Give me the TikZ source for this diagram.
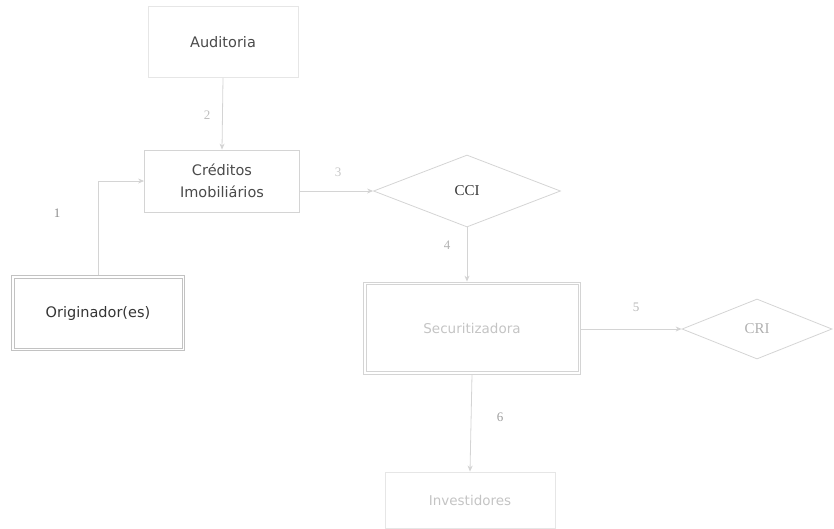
\documentclass[tikz,border=0pt]{standalone}
\usepackage{fontspec}
\setmainfont{DejaVu Sans}
\newfontfamily\numfont{Liberation Serif}
\usetikzlibrary{shapes.geometric,arrows.meta}
\definecolor{edgec}{HTML}{D4D4D4}
\definecolor{faintedge}{HTML}{E6E6E6}
\definecolor{dedgec}{HTML}{C2C2C2}
\definecolor{darktxt}{HTML}{353535}
\definecolor{midtxt}{HTML}{4A4A4A}
\definecolor{palets}{HTML}{C4C4C4}
\tikzset{
  boxnode/.style={draw=edgec, line width=0.8pt, inner sep=0pt, align=center, font=\fontsize{14.5}{22}\selectfont},
  innerline/.style={draw=edgec, line width=0.7pt},
  diam/.style={diamond, draw=edgec, line width=0.8pt, inner sep=0pt, font=\numfont\fontsize{15}{18}\selectfont},
  conn/.style={draw=edgec, line width=0.8pt, -{Stealth[length=6pt,width=5pt]}},
  numlbl/.style={font=\numfont\fontsize{13}{15}\selectfont, inner sep=0pt}
}
\begin{document}
\begin{tikzpicture}[x=1pt,y=-1pt]
\useasboundingbox (0,0) rectangle (834,528);
% boxes
\node[boxnode, draw=faintedge, minimum width=150pt, minimum height=71pt, text=midtxt] (aud) at (223,42) {Auditoria};
\node[boxnode, minimum width=155pt, minimum height=62pt, text=midtxt] (cred) at (222,181) {Créditos\\Imobiliários};
\node[diam, minimum width=187pt, minimum height=72pt, aspect=2.6, text=darktxt] (cci) at (467,191) {CCI};
\node[boxnode, draw=dedgec, minimum width=173pt, minimum height=75pt, text=darktxt] (orig) at (98,313) {Originador(es)};
\draw[innerline, draw=dedgec] ([shift={(3,3)}]orig.north west) rectangle ([shift={(-3,-3)}]orig.south east);
\node[boxnode, minimum width=217pt, minimum height=92pt, text=palets, font=\fontsize{13.5}{16}\selectfont] (sec) at (472,328) {Securitizadora};
\draw[innerline] ([shift={(3,3)}]sec.north west) rectangle ([shift={(-3,-3)}]sec.south east);
\node[diam, minimum width=150pt, minimum height=60pt, aspect=2.5, text=palets!90!black] (cri) at (757,329) {CRI};
\node[boxnode, draw=faintedge, minimum width=170pt, minimum height=56pt, text=palets, font=\fontsize{13.5}{16}\selectfont] (inv) at (470,500) {Investidores};
% connectors
\draw[conn] (orig.north) |- (cred.west);
\draw[conn] (aud.south) -- (cred.north);
\draw[conn] (cred.east |- cci.west) -- (cci.west);
\draw[conn] (cci.south) -- (cci.south |- sec.north);
\draw[conn] (sec.east |- cri.west) -- (cri.west);
\draw[conn] (sec.south) -- (inv.north);
% labels
\node[numlbl, text=black!45] (l1) at (57,213) {1};
\node[numlbl, text=black!25] (l2) at (207,115) {2};
\node[numlbl, text=black!22] (l3) at (338,172) {3};
\node[numlbl, text=black!30] (l4) at (447,245) {4};
\node[numlbl, text=black!28] (l5) at (636,307) {5};
\node[numlbl, text=black!38] (l6) at (500,417) {6};
\end{tikzpicture}
\end{document}
